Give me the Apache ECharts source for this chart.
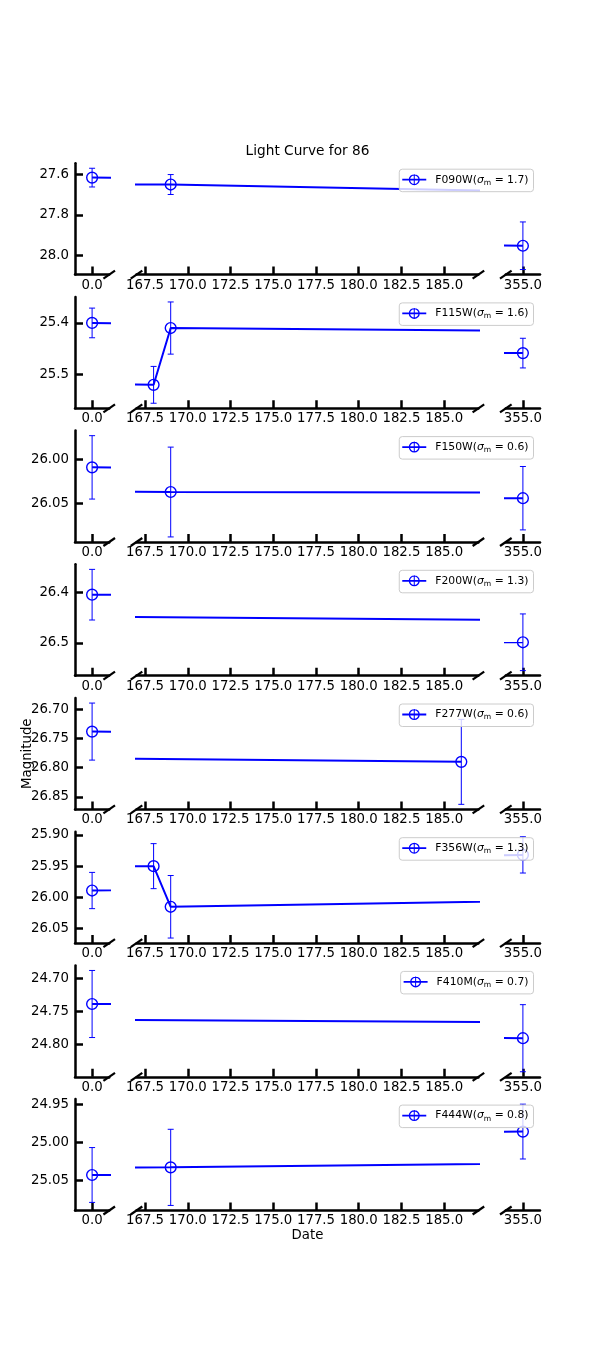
<!DOCTYPE html>
<html>
<head>
<meta charset="utf-8">
<script src="https://cdn.jsdelivr.net/npm/echarts@6/dist/echarts.min.js"></script>
<style>
  html, body { margin: 0; padding: 0; background: #ffffff; }
  #chart { width: 600px; height: 1360px; }
</style>
</head>
<body>
<div id="chart"></div>
<script>
// ---------------- data ----------------
const filters = ['F090W', 'F115W', 'F150W', 'F200W', 'F277W', 'F356W', 'F410M', 'F444W'];
const sigmaM  = ['1.7', '1.6', '0.6', '1.3', '0.6', '1.3', '0.7', '0.8'];

const datesF090W = [0, 169, 355];
const magF090W   = [27.616, 27.650, 27.951];
const errF090W   = [0.046, 0.049, 0.117];

const datesF115W = [0, 168, 169, 355];
const magF115W   = [25.400, 25.521, 25.410, 25.459];
const errF115W   = [0.029, 0.036, 0.051, 0.029];

const datesF150W = [0, 169, 355];
const magF150W   = [26.009, 26.037, 26.044];
const errF150W   = [0.036, 0.051, 0.036];

const datesF200W = [0, 355];
const magF200W   = [26.405, 26.499];
const errF200W   = [0.050, 0.056];

const datesF277W = [0, 186];
const magF277W   = [26.738, 26.790];
const errF277W   = [0.049, 0.073];

const datesF356W = [0, 168, 169, 355];
const magF356W   = [25.989, 25.950, 26.015, 25.932];
const errF356W   = [0.029, 0.036, 0.050, 0.029];

const datesF410M = [0, 355];
const magF410M   = [24.739, 24.791];
const errF410M   = [0.051, 0.051];

const datesF444W = [0, 169, 355];
const magF444W   = [25.043, 25.033, 24.986];
const errF444W   = [0.036, 0.050, 0.036];

const allDates = [datesF090W, datesF115W, datesF150W, datesF200W, datesF277W, datesF356W, datesF410M, datesF444W];
const allMags  = [magF090W, magF115W, magF150W, magF200W, magF277W, magF356W, magF410M, magF444W];
const allErrs  = [errF090W, errF115W, errF150W, errF200W, errF277W, errF356W, errF410M, errF444W];

// tick labels
const yTickLabels = [
  ['27.6', '27.8', '28.0'],
  ['25.4', '25.5'],
  ['26.00', '26.05'],
  ['26.4', '26.5'],
  ['26.70', '26.75', '26.80', '26.85'],
  ['25.90', '25.95', '26.00', '26.05'],
  ['24.70', '24.75', '24.80'],
  ['24.95', '25.00', '25.05']
];
const xTicksLeft  = ['0.0'];
const xTicksMid   = ['167.5', '170.0', '172.5', '175.0', '177.5', '180.0', '182.5', '185.0'];
const xTicksRight = ['355.0'];

// x ranges of the three broken-axis segments
const xRangeLeft  = [-1, 1];
const xRangeMid   = [167, 187];
const xRangeRight = [354, 356];

// ---------------- layout / style ----------------
const COLOR = '#0000ff';
const FONT = 'DejaVu Sans';
const TICK_FS = 13.3;
const PANEL_TOP0 = 163.2, PANEL_H = 111.4, PANEL_STEP = 133.7;
const COLS = [
  { left: 75,    width: 34.2,  range: xRangeLeft,  ticks: xTicksLeft,  breaks: ['right'] },
  { left: 136.5, width: 341.9, range: xRangeMid,   ticks: xTicksMid,   breaks: ['left', 'right'] },
  { left: 505.8, width: 34.2,  range: xRangeRight, ticks: xTicksRight, breaks: ['left'] }
];
const LEGEND_ICON = 'path://M0,5.1H24V6.9H0Z M11.5,0.5H12.5V11.5H11.5Z ' +
  'M6.5,6A5.5,5.5,0,1,1,17.5,6A5.5,5.5,0,1,1,6.5,6Z M7.8,6A4.2,4.2,0,1,0,16.2,6A4.2,4.2,0,1,0,7.8,6Z';

function yLimits(mags, errs) {
  let lo = Infinity, hi = -Infinity;
  mags.forEach((m, i) => { lo = Math.min(lo, m - errs[i]); hi = Math.max(hi, m + errs[i]); });
  const pad = 0.05 * (hi - lo);
  return [lo - pad, hi + pad];
}

function renderErr(params, api) {
  const x = api.value(0), y = api.value(1), e = api.value(2);
  const c = api.coord([x, y]);
  const t = api.coord([x, y - e]);
  const b = api.coord([x, y + e]);
  const cap = 3;
  const ls = () => ({ stroke: COLOR, lineWidth: 1 });
  return {
    type: 'group',
    children: [
      { type: 'line', shape: { x1: c[0], y1: t[1], x2: c[0], y2: b[1] }, style: ls() },
      { type: 'line', shape: { x1: c[0] - cap, y1: t[1], x2: c[0] + cap, y2: t[1] }, style: ls() },
      { type: 'line', shape: { x1: c[0] - cap, y1: b[1], x2: c[0] + cap, y2: b[1] }, style: ls() },
      { type: 'circle', shape: { cx: c[0], cy: c[1], r: 5.4 }, style: { fill: 'none', stroke: COLOR, lineWidth: 1.4 } }
    ]
  };
}

function makeBreakRenderer(sides) {
  return function (params) {
    const cs = params.coordSys;
    const children = sides.map(side => {
      const cx = side === 'right' ? cs.x + cs.width : cs.x;
      const cy = cs.y + cs.height;
      return { type: 'line', shape: { x1: cx - 5.8, y1: cy + 4, x2: cx + 5.8, y2: cy - 4 },
               style: { stroke: '#000', lineWidth: 2.2 } };
    });
    return { type: 'group', children };
  };
}

const grids = [], xAxes = [], yAxes = [], series = [], legends = [];

for (let p = 0; p < filters.length; p++) {
  const top = PANEL_TOP0 + p * PANEL_STEP;
  const [yMin, yMax] = yLimits(allMags[p], allErrs[p]);
  const yLabels = yTickLabels[p];
  const yVals = yLabels.map(Number);
  const yDec = (yLabels[0].split('.')[1] || '').length;
  const lineData = allDates[p].map((d, i) => [d, allMags[p][i]]);
  const errData = allDates[p].map((d, i) => [d, allMags[p][i], allErrs[p][i]]);

  COLS.forEach((col, c) => {
    const g = grids.length;
    grids.push({ left: col.left, top: top, width: col.width, height: PANEL_H,
                 containLabel: false, outerBoundsMode: 'none' });

    const xVals = col.ticks.map(Number);
    const isBottomMid = (p === filters.length - 1 && c === 1);
    xAxes.push({
      type: 'value', gridIndex: g, min: col.range[0], max: col.range[1], position: 'bottom',
      axisLine: { show: true, onZero: false, lineStyle: { color: '#000', width: 2.5 } },
      axisTick: { show: true, inside: true, length: 8, customValues: xVals,
                  lineStyle: { color: '#000', width: 2.5 } },
      axisLabel: { show: true, customValues: xVals, margin: 4, color: '#000', fontSize: TICK_FS,
                   fontFamily: FONT, formatter: v => v.toFixed(1) },
      splitLine: { show: false },
      name: isBottomMid ? 'Date' : '', nameLocation: 'middle', nameGap: 19,
      nameMoveOverlap: false,
      nameTextStyle: { color: '#000', fontSize: TICK_FS, fontFamily: FONT }
    });

    if (c === 0) {
      yAxes.push({
        type: 'value', gridIndex: g, min: yMin, max: yMax, inverse: true, position: 'left',
        axisLine: { show: true, onZero: false, lineStyle: { color: '#000', width: 2.5 } },
        axisTick: { show: true, inside: true, length: 8, customValues: yVals,
                    lineStyle: { color: '#000', width: 2.5 } },
        axisLabel: { show: true, customValues: yVals, margin: 6, color: '#000', fontSize: TICK_FS,
                     fontFamily: FONT, formatter: v => v.toFixed(yDec) },
        splitLine: { show: false },
        name: p === 4 ? 'Magnitude' : '', nameLocation: 'middle', nameGap: 41, nameRotate: 90,
        nameMoveOverlap: false,
        nameTextStyle: { color: '#000', fontSize: TICK_FS, fontFamily: FONT }
      });
    } else {
      yAxes.push({ type: 'value', gridIndex: g, min: yMin, max: yMax, inverse: true, show: false,
                   splitLine: { show: false } });
    }

    series.push({
      type: 'line', name: filters[p], xAxisIndex: g, yAxisIndex: g, data: lineData,
      showSymbol: false, symbol: 'none', clip: true, color: COLOR, z: 2,
      lineStyle: { color: COLOR, width: 2 }, silent: true, animation: false
    });
    series.push({
      type: 'custom', name: filters[p], xAxisIndex: g, yAxisIndex: g, data: errData,
      encode: { x: 0, y: 1 }, renderItem: renderErr, clip: true, color: COLOR, z: 3,
      silent: true, animation: false
    });
    series.push({
      type: 'custom', xAxisIndex: g, yAxisIndex: g, data: [[col.range[0], yMin]],
      encode: { x: 0, y: 1 }, renderItem: makeBreakRenderer(col.breaks), clip: false, z: 5,
      silent: true, animation: false
    });
  });

  const sig = sigmaM[p];
  const name = filters[p];
  legends.push({
    data: [name], right: 66.5, top: top + 6, orient: 'horizontal',
    padding: [5, 5, 5, 3], itemWidth: 24, itemHeight: 11, itemGap: 0,
    icon: LEGEND_ICON, selectedMode: false,
    backgroundColor: 'rgba(255,255,255,0.8)', borderColor: '#cccccc', borderWidth: 1, borderRadius: 3,
    itemStyle: { color: COLOR, borderWidth: 0 },
    formatter: () => '{p|' + name + '(}{s|σ}{m|m}{t| = ' + sig + ')}',
    textStyle: {
      color: '#000', fontFamily: FONT, fontSize: 10.8,
      rich: {
        p: { fontSize: 10.8, fontFamily: FONT, color: '#000', padding: [0, 0, 0, 4], lineHeight: 14, verticalAlign: 'middle' },
        s: { fontSize: 10.8, fontFamily: FONT, color: '#000', fontStyle: 'italic', lineHeight: 14, verticalAlign: 'middle' },
        m: { fontSize: 7.6, fontFamily: FONT, color: '#000', lineHeight: 8, verticalAlign: 'bottom' },
        t: { fontSize: 10.8, fontFamily: FONT, color: '#000', lineHeight: 14, verticalAlign: 'middle' }
      }
    }
  });
}

const chart = echarts.init(document.getElementById('chart'), null, { renderer: 'canvas' });
chart.setOption({
  backgroundColor: '#ffffff',
  animation: false,
  textStyle: { fontFamily: FONT },
  title: {
    text: 'Light Curve for 86', left: 307.5, textAlign: 'center', top: 144, padding: 0,
    textStyle: { color: '#000', fontSize: 13.7, fontWeight: 'normal', fontFamily: FONT }
  },
  grid: grids,
  xAxis: xAxes,
  yAxis: yAxes,
  legend: legends,
  series: series
});
</script>
</body>
</html>
